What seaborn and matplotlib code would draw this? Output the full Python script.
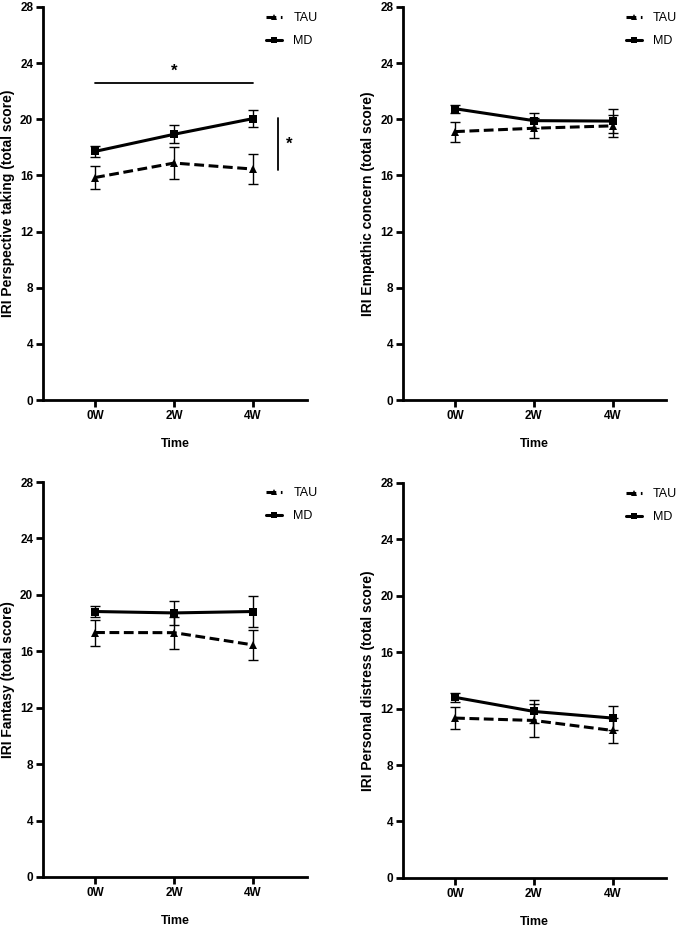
import numpy as np
import pandas as pd
import matplotlib
matplotlib.use("Agg")
import matplotlib.pyplot as plt
import seaborn as sns

sns.set_style("ticks", {"text.color": "black", "axes.labelcolor": "black",
                        "xtick.color": "black", "ytick.color": "black",
                        "axes.edgecolor": "black"})
plt.rcParams["font.family"] = ["Liberation Sans", "DejaVu Sans"]

times = ["0W", "2W", "4W"]
groups = ["TAU", "MD"]

panel_labels = [
    "IRI Perspective taking (total score)",
    "IRI Empathic concern (total score)",
    "IRI Fantasy (total score)",
    "IRI Personal distress (total score)",
]

# means and SEM per panel
tau_mean = [
    [15.85, 16.88, 16.45],
    [19.12, 19.36, 19.53],
    [17.33, 17.32, 16.45],
    [11.33, 11.16, 10.45],
]
tau_err = [
    [0.85, 1.12, 1.07],
    [0.71, 0.72, 0.77],
    [0.92, 1.13, 1.08],
    [0.75, 1.15, 0.87],
]
md_mean = [
    [17.71, 18.93, 20.05],
    [20.75, 19.90, 19.87],
    [18.82, 18.72, 18.82],
    [12.80, 11.80, 11.33],
]
md_err = [
    [0.40, 0.63, 0.62],
    [0.28, 0.52, 0.83],
    [0.36, 0.87, 1.09],
    [0.33, 0.80, 0.86],
]

yticks = [0, 4, 8, 12, 16, 20, 24, 28]

# axes rectangles in figure fractions
rects = [
    [0.063, 0.5685, 0.387, 0.424],
    [0.591, 0.5685, 0.386, 0.424],
    [0.063, 0.054, 0.387, 0.426],
    [0.591, 0.053, 0.386, 0.426],
]

fig = plt.figure(figsize=(6.82, 9.27), dpi=100)

for i in range(4):
    ax = fig.add_axes(rects[i])
    rows = []
    for g, means in (("TAU", tau_mean[i]), ("MD", md_mean[i])):
        for j, t in enumerate(times):
            rows.append({"pos": j, "Time": t, "group": g, "score": means[j]})
    df = pd.DataFrame(rows)

    pos = np.arange(len(times))
    ax.errorbar(pos, tau_mean[i], yerr=tau_err[i], fmt="none", ecolor="black",
                elinewidth=1.0, capsize=3.5, capthick=1.0, zorder=2)
    ax.errorbar(pos, md_mean[i], yerr=md_err[i], fmt="none", ecolor="black",
                elinewidth=1.0, capsize=3.5, capthick=1.0, zorder=2)

    sns.lineplot(data=df, x="pos", y="score", hue="group", style="group",
                 hue_order=groups, style_order=groups,
                 palette={"TAU": "black", "MD": "black"},
                 markers={"TAU": "^", "MD": "s"},
                 dashes={"TAU": (3.2, 1.5), "MD": ""},
                 markersize=6, linewidth=2.2, markeredgewidth=0,
                 ax=ax, zorder=3)

    ax.set_xlim(-0.66, 2.68)
    ax.set_ylim(0, 28)
    ax.set_yticks(yticks)
    ax.set_xticks(pos)
    ax.set_xticklabels(times)
    ax.set_xlabel("Time", fontsize=9, fontweight="bold", labelpad=12)
    ax.set_ylabel(panel_labels[i], fontsize=10, fontweight="bold", labelpad=4)
    for lab in ax.get_xticklabels() + ax.get_yticklabels():
        lab.set_fontweight("bold")
        lab.set_fontsize(8.5)
    ax.tick_params(width=2, length=5, pad=2, colors="black")
    for s in ("left", "bottom"):
        ax.spines[s].set_linewidth(2)
        ax.spines[s].set_color("black")
    sns.despine(ax=ax)

    leg = ax.legend(loc="upper left", bbox_to_anchor=(0.845, 0.987), frameon=False,
                    fontsize=9, handlelength=1.3, handletextpad=0.9,
                    labelspacing=0.9, borderpad=0, borderaxespad=0,
                    markerscale=0.8)
    for t in leg.get_texts():
        t.set_color("black")

    if i == 0:
        ax.plot([0, 2], [22.6, 22.6], color="black", lw=1.3)
        ax.text(1, 22.85, "*", ha="center", va="bottom", fontsize=12, fontweight="bold")
        ax.plot([2.32, 2.32], [16.35, 20.1], color="black", lw=1.3)
        ax.text(2.42, 18.2, "*", ha="left", va="center", fontsize=12, fontweight="bold")

fig.savefig("out.png", dpi=100)
